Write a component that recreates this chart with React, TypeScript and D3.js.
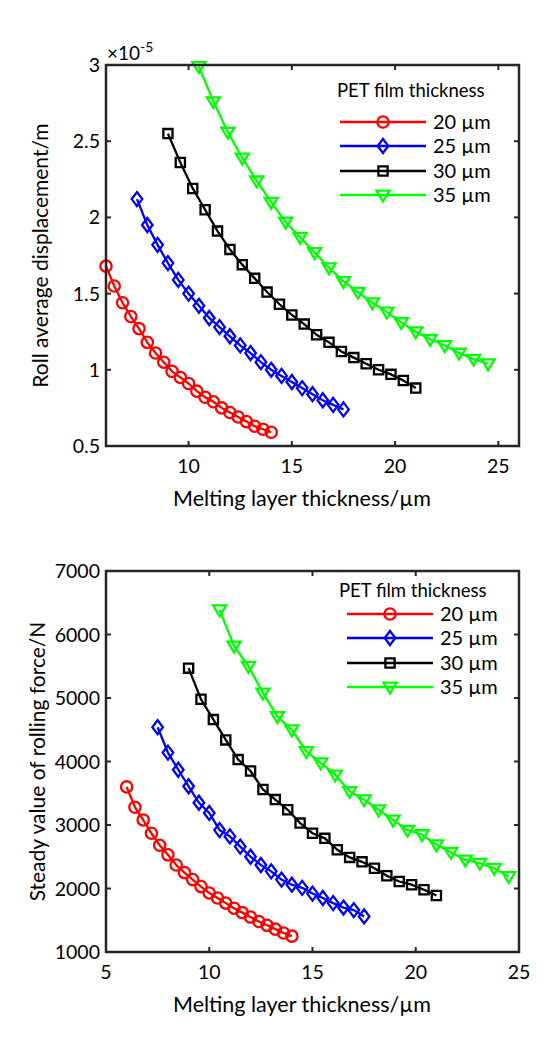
import React from 'react';
import * as d3 from 'd3';

// ---------- data ----------
const seriesNames = ['20 µm', '25 µm', '30 µm', '35 µm'];
const seriesColors = ['#ff0000', '#0000ff', '#000000', '#00ff00'];
const seriesMarkers = ['circle', 'diamond', 'square', 'triangle'];

const x20 = [6, 6.4, 6.8, 7.2, 7.6, 8, 8.4, 8.8, 9.2, 9.6, 10, 10.4, 10.8, 11.2, 11.6, 12, 12.4, 12.8, 13.2, 13.6, 14];
const x25 = [7.5, 8, 8.5, 9, 9.5, 10, 10.5, 11, 11.5, 12, 12.5, 13, 13.5, 14, 14.5, 15, 15.5, 16, 16.5, 17, 17.5];
const x30 = [9, 9.6, 10.2, 10.8, 11.4, 12, 12.6, 13.2, 13.8, 14.4, 15, 15.6, 16.2, 16.8, 17.4, 18, 18.6, 19.2, 19.8, 20.4, 21];
const x35 = [10.5, 11.2, 11.9, 12.6, 13.3, 14, 14.7, 15.4, 16.1, 16.8, 17.5, 18.2, 18.9, 19.6, 20.3, 21, 21.7, 22.4, 23.1, 23.8, 24.5];

// Roll average displacement (×10^-5 m)
const disp20 = [1.68, 1.55, 1.44, 1.35, 1.27, 1.18, 1.11, 1.05, 0.99, 0.95, 0.91, 0.86, 0.82, 0.79, 0.75, 0.72, 0.69, 0.66, 0.63, 0.61, 0.59];
const disp25 = [2.12, 1.95, 1.82, 1.70, 1.59, 1.50, 1.42, 1.34, 1.28, 1.22, 1.16, 1.11, 1.05, 1.00, 0.96, 0.92, 0.88, 0.84, 0.80, 0.77, 0.74];
const disp30 = [2.55, 2.36, 2.19, 2.05, 1.91, 1.79, 1.69, 1.60, 1.51, 1.43, 1.36, 1.30, 1.23, 1.18, 1.12, 1.08, 1.04, 1.00, 0.97, 0.93, 0.88];
const disp35 = [2.99, 2.76, 2.56, 2.39, 2.24, 2.10, 1.97, 1.87, 1.77, 1.67, 1.58, 1.51, 1.44, 1.38, 1.31, 1.25, 1.20, 1.16, 1.11, 1.07, 1.04];

// Steady value of rolling force (N)
const force20 = [3600, 3280, 3080, 2870, 2680, 2530, 2370, 2250, 2140, 2030, 1930, 1850, 1770, 1690, 1620, 1550, 1480, 1420, 1360, 1300, 1250];
const force25 = [4540, 4140, 3870, 3610, 3350, 3190, 2920, 2820, 2660, 2500, 2370, 2270, 2140, 2060, 2010, 1920, 1850, 1770, 1700, 1660, 1560];
const force30 = [5470, 4980, 4660, 4340, 4030, 3850, 3560, 3400, 3240, 3030, 2870, 2790, 2610, 2490, 2420, 2320, 2200, 2110, 2060, 1980, 1890];
const force35 = [6390, 5820, 5500, 5080, 4710, 4500, 4160, 3980, 3790, 3530, 3400, 3240, 3080, 2920, 2850, 2690, 2570, 2450, 2400, 2320, 2190];

const topXTicks = [10, 15, 20, 25];
const topYTicks = [0.5, 1, 1.5, 2, 2.5, 3];
const botXTicks = [5, 10, 15, 20, 25];
const botYTicks = [1000, 2000, 3000, 4000, 5000, 6000, 7000];

const xLabel = 'Melting layer thickness/µm';
const topYLabel = 'Roll average displacement/m';
const botYLabel = 'Steady value of rolling force/N';
const legendTitle = 'PET film thickness';

const FONT = 'Lato, "Open Sans", sans-serif';
const AXIS = '#262626';
const SW = 2.3;

function markerPath(kind: string): string {
  switch (kind) {
    case 'circle':
      return d3.symbol(d3.symbolCircle, 100)() as string;
    case 'diamond':
      return 'M0,-7L5.3,0L0,7L-5.3,0Z';
    case 'square':
      return 'M-4.6,-4.6H4.6V4.6H-4.6Z';
    default:
      return 'M-6.5,-4.3L6.5,-4.3L0,6.5Z';
  }
}

type PanelProps = {
  top: number;
  xDomain: [number, number];
  yDomain: [number, number];
  xTicks: number[];
  yTicks: number[];
  ys: number[][];
  yLabel: string;
  exponent?: boolean;
  legend: { titleY: number; rows: number[]; lineX0: number; lineX1: number; titleX: number };
  yLabelX: number;
};

const xsAll = [x20, x25, x30, x35];

function Panel(p: PanelProps) {
  const left = 106, right = 519;
  const bottom = p.top + 381;
  const x = d3.scaleLinear().domain(p.xDomain).range([left, right]);
  const y = d3.scaleLinear().domain(p.yDomain).range([bottom, p.top]);
  const line = d3.line<[number, number]>().x(d => x(d[0])).y(d => y(d[1]));
  const tl = 5;
  const fmt = (v: number) => String(v);
  return (
    <g>
      {p.ys.map((vals, si) => {
        const pts: [number, number][] = xsAll[si].map((xv, i) => [xv, vals[i]]);
        return (
          <g key={si}>
            <path d={line(pts) as string} fill="none" stroke={seriesColors[si]} strokeWidth={SW} />
            {pts.map((d, i) => (
              <path key={i} d={markerPath(seriesMarkers[si])} transform={`translate(${x(d[0])},${y(d[1])})`}
                fill="none" stroke={seriesColors[si]} strokeWidth={SW} />
            ))}
          </g>
        );
      })}
      {/* ticks */}
      {p.xTicks.map(t => (
        <g key={'xt' + t}>
          <line x1={x(t)} x2={x(t)} y1={bottom} y2={bottom - tl} stroke={AXIS} strokeWidth={2} />
          <line x1={x(t)} x2={x(t)} y1={p.top} y2={p.top + tl} stroke={AXIS} strokeWidth={2} />
          <text x={x(t)} y={bottom + 27} textAnchor="middle" fontSize={19.5} fontFamily={FONT} fill="#000">{fmt(t)}</text>
        </g>
      ))}
      {p.yTicks.map(t => (
        <g key={'yt' + t}>
          <line x1={left} x2={left + tl} y1={y(t)} y2={y(t)} stroke={AXIS} strokeWidth={2} />
          <line x1={right} x2={right - tl} y1={y(t)} y2={y(t)} stroke={AXIS} strokeWidth={2} />
          <text x={left - 6} y={y(t) + 7} textAnchor="end" fontSize={19.5} fontFamily={FONT} fill="#000">{fmt(t)}</text>
        </g>
      ))}
      <rect x={left} y={p.top} width={right - left} height={bottom - p.top} fill="none" stroke={AXIS} strokeWidth={2.5} />
      {p.exponent && (
        <text x={107} y={p.top - 5} fontSize={19} fontFamily={FONT} fill="#000">
          ×10<tspan dy={-8} fontSize={14}>-5</tspan>
        </text>
      )}
      <text x={302} y={bottom + 60} textAnchor="middle" fontSize={21.5} fontFamily={FONT} fill="#000">{xLabel}</text>
      <text transform={`translate(${p.yLabelX},${(p.top + bottom) / 2}) rotate(-90)`} textAnchor="middle" fontSize={21} fontFamily={FONT} fill="#000">{p.yLabel}</text>
      {/* legend */}
      <text x={p.legend.titleX} y={p.legend.titleY} fontSize={18.5} fontFamily={FONT} fill="#000">{legendTitle}</text>
      {seriesNames.map((n, i) => {
        const ry = p.legend.rows[i];
        const mx = (p.legend.lineX0 + p.legend.lineX1) / 2;
        return (
          <g key={n}>
            <line x1={p.legend.lineX0} x2={p.legend.lineX1} y1={ry} y2={ry} stroke={seriesColors[i]} strokeWidth={SW} />
            <path d={markerPath(seriesMarkers[i])} transform={`translate(${mx},${ry})`} fill="none" stroke={seriesColors[i]} strokeWidth={SW} />
            <text x={p.legend.lineX1 + 7} y={ry + 7} fontSize={20} fontFamily={FONT} fill="#000">{n}</text>
          </g>
        );
      })}
    </g>
  );
}

export default function App() {
  return (
    <svg width={556} height={1055} style={{ position: 'absolute', left: 0, top: 0, background: '#fff' }}>
      <rect width={556} height={1055} fill="#fff" />
      <Panel top={65} xDomain={[6, 26]} yDomain={[0.5, 3]} xTicks={topXTicks} yTicks={topYTicks}
        ys={[disp20, disp25, disp30, disp35]} yLabel={topYLabel} exponent yLabelX={48}
        legend={{ titleX: 337, titleY: 97, rows: [122, 146, 171, 195], lineX0: 340, lineX1: 426 }} />
      <Panel top={571} xDomain={[5, 25]} yDomain={[1000, 7000]} xTicks={botXTicks} yTicks={botYTicks}
        ys={[force20, force25, force30, force35]} yLabel={botYLabel} yLabelX={45}
        legend={{ titleX: 339, titleY: 597, rows: [614, 638, 663, 687], lineX0: 347, lineX1: 433 }} />
    </svg>
  );
}
